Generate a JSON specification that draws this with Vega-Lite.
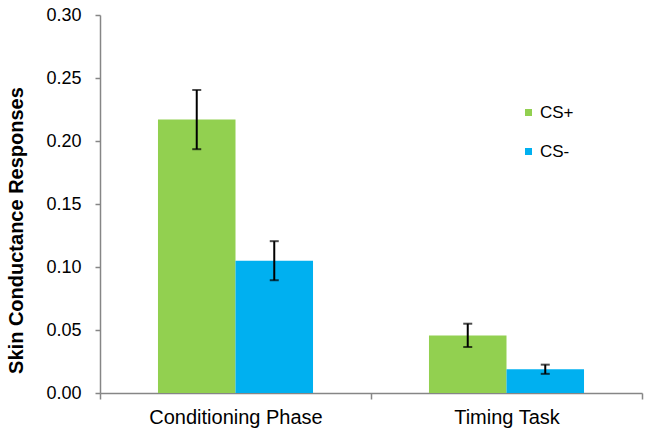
{
  "$schema": "https://vega.github.io/schema/vega-lite/v6.json",
  "width": 542,
  "height": 378,
  "autosize": {"type": "none"},
  "padding": {"left": 100, "top": 15, "right": 9, "bottom": 45},
  "background": "white",
  "config": {"view": {"stroke": null}, "font": "Liberation Sans"},
  "data": {
    "values": [
      {"phase": "Conditioning Phase", "cs": "CS+", "mean": 0.217, "lo": 0.1935, "hi": 0.2405},
      {"phase": "Conditioning Phase", "cs": "CS-", "mean": 0.105, "lo": 0.0895, "hi": 0.1205},
      {"phase": "Timing Task", "cs": "CS+", "mean": 0.0457, "lo": 0.0365, "hi": 0.055},
      {"phase": "Timing Task", "cs": "CS-", "mean": 0.0188, "lo": 0.0152, "hi": 0.0225}
    ]
  },
  "encoding": {
    "x": {
      "field": "phase", "type": "nominal", "sort": null,
      "scale": {"paddingInner": 0, "paddingOuter": 0},
      "axis": {
        "title": null, "labelAngle": 0, "labelFontSize": 20, "labelColor": "#000000",
        "labelPadding": 8, "domainColor": "#868686", "tickColor": "#868686",
        "tickBand": "extent", "tickSize": 6, "domainWidth": 1.5, "tickWidth": 1.5
      }
    },
    "xOffset": {
      "field": "cs", "type": "nominal", "sort": ["CS+", "CS-"],
      "scale": {"paddingInner": 0, "paddingOuter": 0.748}
    }
  },
  "layer": [
    {
      "mark": {"type": "bar"},
      "encoding": {
        "y": {
          "field": "mean", "type": "quantitative",
          "scale": {"domain": [0, 0.3], "nice": false},
          "axis": {
            "title": "Skin Conductance Responses", "titleFontSize": 20, "titleFontWeight": "bold",
            "titleColor": "#000000", "titleX": -84, "titleY": 215, "titleBaseline": "middle", "titleAngle": -90,
            "values": [0, 0.05, 0.1, 0.15, 0.2, 0.25, 0.3], "format": ".2f",
            "labelFontSize": 18, "labelColor": "#000000", "labelPadding": 14,
            "grid": false, "domainColor": "#868686", "tickColor": "#868686", "tickSize": 5,
            "domainWidth": 1.5, "tickWidth": 1.5
          }
        },
        "color": {
          "field": "cs", "type": "nominal",
          "scale": {"domain": ["CS+", "CS-"], "range": ["#92D050", "#00B0F0"]},
          "legend": {
            "title": null, "orient": "none", "legendX": 420, "legendY": 89,
            "symbolType": "square", "symbolSize": 49, "symbolStrokeWidth": 0,
            "labelFontSize": 17, "labelColor": "#000000", "rowPadding": 21, "labelOffset": 3
          }
        }
      }
    },
    {
      "mark": {"type": "rule", "color": "#000000", "strokeWidth": 2},
      "encoding": {
        "y": {"field": "lo", "type": "quantitative"},
        "y2": {"field": "hi"}
      }
    },
    {
      "mark": {"type": "tick", "color": "#000000", "thickness": 2, "size": 9, "orient": "horizontal"},
      "encoding": {"y": {"field": "lo", "type": "quantitative"}}
    },
    {
      "mark": {"type": "tick", "color": "#000000", "thickness": 2, "size": 9, "orient": "horizontal"},
      "encoding": {"y": {"field": "hi", "type": "quantitative"}}
    }
  ]
}
